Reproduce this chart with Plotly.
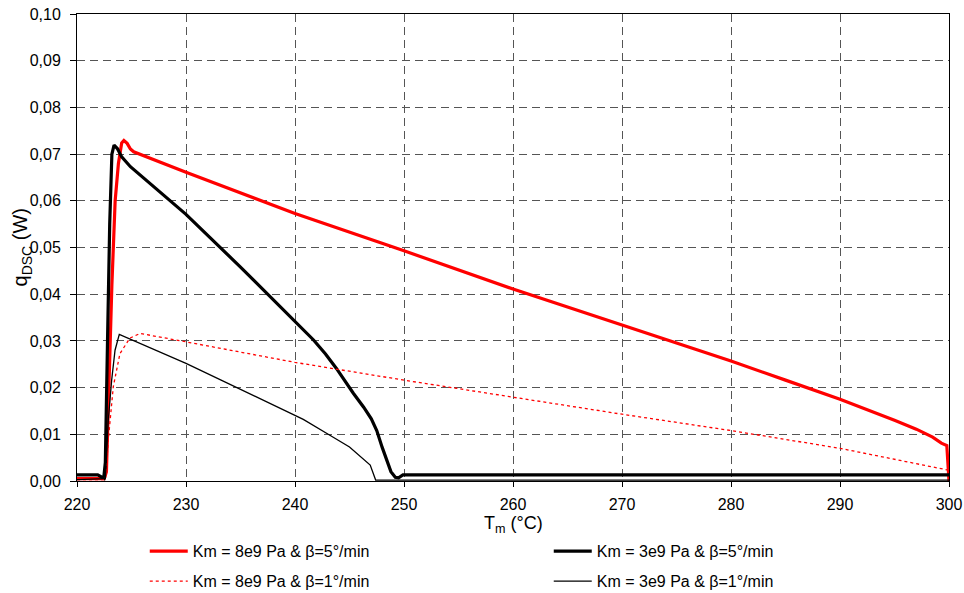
import plotly.graph_objects as go

# ---- data ----
T_k8_b5 = [220.0, 222.5, 222.7, 222.9, 223.2, 223.5, 223.8, 224.1, 224.3, 224.6, 224.9, 225.2,
           230.0, 240.0, 250.0, 260.0, 270.0, 280.0, 285.0, 290.0, 295.0, 297.0, 298.5, 299.3, 299.8, 300.0]
q_k8_b5 = [0.0005, 0.0005, 0.002, 0.020, 0.042, 0.060, 0.068, 0.0724, 0.0729, 0.0723, 0.0711, 0.0705,
           0.0661, 0.0573, 0.0493, 0.0411, 0.0334, 0.0257, 0.0216, 0.0175, 0.0130, 0.0111, 0.0094, 0.0081, 0.0076, 0.0]

T_k3_b5 = [220.0, 221.9, 222.45, 222.6, 222.8, 223.0, 223.2, 223.4, 223.7, 224.1, 224.9,
           230.0, 235.0, 238.6, 240.0, 241.7, 242.8, 243.8, 245.35, 246.3, 247.0, 247.5, 248.0, 248.4, 248.8,
           249.2, 249.5, 249.9, 300.0]
q_k3_b5 = [0.0013, 0.0013, 0.0006, 0.004, 0.030, 0.055, 0.070, 0.0719, 0.0712, 0.0694, 0.0673,
           0.0571, 0.0458, 0.0375, 0.0343, 0.0302, 0.0272, 0.0241, 0.0188, 0.0158, 0.0133, 0.0108, 0.0072, 0.0045, 0.0020,
           0.0008, 0.0007, 0.0013, 0.0013]

T_k8_b1 = [220.0, 222.6, 222.7, 222.87, 223.33, 223.94, 224.86, 225.78, 230.0, 238.6, 240.0,
           250.0, 260.0, 270.0, 280.0, 290.0, 300.0]
q_k8_b1 = [0.0003, 0.0003, 0.003, 0.0088, 0.0202, 0.0273, 0.0306, 0.0316, 0.0298, 0.0261, 0.0254,
           0.0216, 0.0179, 0.0143, 0.0108, 0.0070, 0.0023]

T_k3_b1 = [220.0, 222.6, 222.87, 223.18, 223.49, 223.88, 230.0, 238.6, 240.76, 243.2, 245.0,
           246.9, 247.25, 247.4, 300.0]
q_k3_b1 = [0.0003, 0.0005, 0.0130, 0.0216, 0.0280, 0.0314, 0.0252, 0.0156, 0.0132, 0.0098, 0.0073,
           0.0034, 0.0009, 0.0002, 0.0002]

x_ticks = [220, 230, 240, 250, 260, 270, 280, 290, 300]
y_ticks = [0.00, 0.01, 0.02, 0.03, 0.04, 0.05, 0.06, 0.07, 0.08, 0.09, 0.10]

names = ["Km = 8e9 Pa & β=5°/min", "Km = 3e9 Pa & β=5°/min",
         "Km = 8e9 Pa & β=1°/min", "Km = 3e9 Pa & β=1°/min"]
x_title = "T<sub>m</sub> (°C)"
y_title = "q<sub>DSC</sub> (W)"

fig = go.Figure()
fig.add_trace(go.Scatter(x=T_k8_b5, y=q_k8_b5, mode="lines", name=names[0], legend="legend",
                         line=dict(color="#FF0000", width=3.2)))
fig.add_trace(go.Scatter(x=T_k3_b5, y=q_k3_b5, mode="lines", name=names[1], legend="legend",
                         line=dict(color="#000000", width=3.2)))
fig.add_trace(go.Scatter(x=T_k8_b1, y=q_k8_b1, mode="lines", name=names[2], legend="legend2",
                         line=dict(color="#FF0000", width=1.3, dash="3px,3px")))
fig.add_trace(go.Scatter(x=T_k3_b1, y=q_k3_b1, mode="lines", name=names[3], legend="legend2",
                         line=dict(color="#000000", width=1.3)))

font_family = "Liberation Sans, Arial, sans-serif"
grid_color = "#555555"

legend_common = dict(orientation="h", xanchor="left", yanchor="top",
                     entrywidth=351, entrywidthmode="pixels", traceorder="normal",
                     font=dict(family=font_family, size=16, color="#000000"),
                     itemwidth=38, bgcolor="rgba(0,0,0,0)")

fig.update_layout(
    width=964, height=593,
    margin=dict(l=77, r=15, t=14, b=112, autoexpand=False),
    paper_bgcolor="white", plot_bgcolor="white",
    separators=", ",
    font=dict(family=font_family, size=16, color="#000000"),
    showlegend=True,
    legend=dict(x=0.0777, y=-0.114, **legend_common),
    legend2=dict(x=0.0777, y=-0.178, **legend_common),
    xaxis=dict(range=[220, 300], tickvals=x_ticks, ticktext=[str(v) for v in x_ticks],
               showline=True, linecolor="#000000", linewidth=1, mirror=True,
               ticks="outside", ticklen=5, tickcolor="#000000", ticklabelstandoff=4,
               ticklabeloverflow="allow",
               showgrid=True, gridcolor=grid_color, griddash="8px,5px", gridwidth=1,
               zeroline=False, automargin=False),
    yaxis=dict(range=[0, 0.1], tickvals=y_ticks, tickformat=".2f",
               showline=True, linecolor="#000000", linewidth=1, mirror=True,
               ticks="outside", ticklen=6, tickcolor="#000000", ticklabelstandoff=6,
               ticklabeloverflow="allow",
               showgrid=True, gridcolor=grid_color, griddash="8px,5px", gridwidth=1,
               zeroline=False, automargin=False),
    annotations=[
        dict(text=x_title, xref="paper", yref="paper", x=0.5, y=-0.0925,
             xanchor="center", yanchor="middle", showarrow=False,
             font=dict(family=font_family, size=18, color="#000000")),
        dict(text=y_title, xref="paper", yref="paper", x=-0.0631, y=0.5, textangle=-90,
             xanchor="center", yanchor="middle", showarrow=False,
             font=dict(family=font_family, size=20, color="#000000")),
    ],
)

fig.write_html("out.html", config={"displayModeBar": False},
               post_script="document.body.style.margin='0px';")
